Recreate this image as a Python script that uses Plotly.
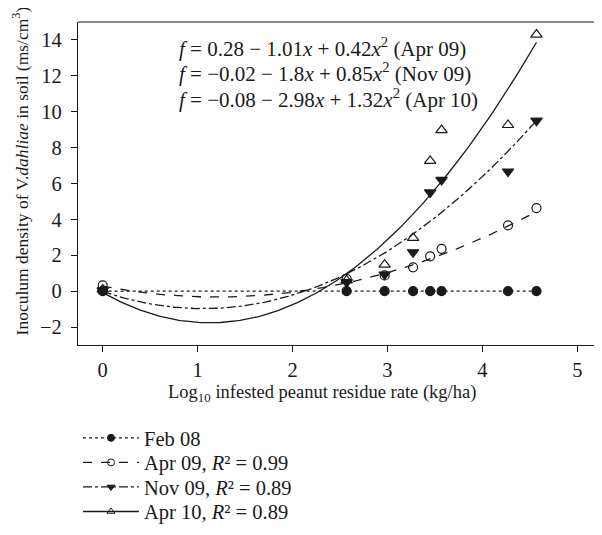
import numpy as np
import plotly.graph_objects as go

# ---- data ----
log_rate = [0.0, 2.57, 2.97, 3.27, 3.45, 3.57, 4.27, 4.57]
feb08 = [0.0, 0.0, 0.0, 0.0, 0.0, 0.0, 0.0, 0.0]
apr09 = [0.32, 0.68, 0.88, 1.33, 1.94, 2.36, 3.67, 4.63]
nov09 = [0.05, 0.5, 0.93, 2.17, 5.5, 6.2, 6.67, 9.5]
apr10 = [0.1, 0.6, 1.48, 2.97, 7.26, 8.98, 9.26, 14.3]

# fitted quadratic coefficients (c0, c1, c2) as printed on the chart
coef_apr09 = [0.28, -1.01, 0.42]
coef_nov09 = [-0.02, -1.8, 0.85]
coef_apr10 = [-0.08, -2.98, 1.32]

names = ["Feb 08",
         "Apr 09, <i>R</i>² = 0.99",
         "Nov 09, <i>R</i>² = 0.89",
         "Apr 10, <i>R</i>² = 0.89"]
equations = [
    "<i>f</i> = 0.28 − 1.01<i>x</i> + 0.42<i>x</i><sup>2</sup> (Apr 09)",
    "<i>f</i> = −0.02 − 1.8<i>x</i> + 0.85<i>x</i><sup>2</sup> (Nov 09)",
    "<i>f</i> = −0.08 − 2.98<i>x</i> + 1.32<i>x</i><sup>2</sup> (Apr 10)",
]
xticks = [0, 1, 2, 3, 4, 5]
yticks = [-2, 0, 2, 4, 6, 8, 10, 12, 14]
yticklabels = ["−2", "0", "2", "4", "6", "8", "10", "12", "14"]
xtitle = "Log<sub>10</sub> infested peanut residue rate (kg/ha)"
ytitle = "Inoculum density of V.<i>dahliae</i> in soil (ms/cm<sup>3</sup>)"

FONT = "Liberation Serif, Times New Roman, serif"
BLACK = "#1a1a1a"

xfit = np.linspace(min(log_rate), max(log_rate), 200)


def quad(c, x):
    return c[0] + c[1] * x + c[2] * x ** 2


fig = go.Figure()

series = [
    (feb08, None, "circle", "dot", 9),
    (apr09, coef_apr09, "circle-open", "dash", 9),
    (nov09, coef_nov09, "triangle-down", "dashdot", 10),
    (apr10, coef_apr10, "triangle-up-open", "solid", 10),
]
legend_ids = ["legend", "legend2", "legend3", "legend4"]
legend_y = [-0.288, -0.364, -0.440, -0.516]

for i, (yv, coef, sym, dash, ms) in enumerate(series):
    if coef is None:
        cx, cy = log_rate, yv
    else:
        cx, cy = xfit, quad(coef, xfit)
    fig.add_trace(go.Scatter(x=cx, y=cy, mode="lines",
                             line=dict(color=BLACK, width=1.3, dash=dash),
                             showlegend=False, hoverinfo="skip"))
    fig.add_trace(go.Scatter(x=log_rate, y=yv, mode="markers",
                             marker=dict(symbol=sym, size=ms, color=BLACK,
                                         line=dict(color=BLACK, width=1.2)),
                             showlegend=False))
    # legend entry (each row in its own legend box so row spacing matches)
    fig.add_trace(go.Scatter(x=[None], y=[None], mode="lines+markers", name=names[i],
                             legend=legend_ids[i],
                             marker=dict(symbol=sym, size=7, color=BLACK,
                                         line=dict(color=BLACK, width=1)),
                             line=dict(color=BLACK, width=1.3, dash=dash)))

for k, eq in enumerate(equations):
    fig.add_annotation(x=0.78, y=13.6 - 1.43 * k, xref="x", yref="y", text=eq,
                       showarrow=False, xanchor="left", yanchor="middle",
                       font=dict(family=FONT, size=21, color=BLACK))

# axis titles as annotations (placed like the reference)
fig.add_annotation(x=0.466, y=-0.149, xref="paper", yref="paper", text=xtitle,
                   showarrow=False, xanchor="center", yanchor="middle",
                   font=dict(family=FONT, size=18.5, color=BLACK))
fig.add_annotation(x=-0.111, y=0.54, xref="paper", yref="paper", text=ytitle,
                   showarrow=False, textangle=-90, xanchor="center", yanchor="middle",
                   font=dict(family=FONT, size=17.5, color=BLACK))

# top frame line
fig.add_shape(type="line", xref="paper", yref="paper", x0=0, x1=1, y0=1, y1=1,
              line=dict(color=BLACK, width=1.2))

legend_common = dict(x=0.0, xanchor="left", yanchor="middle",
                     font=dict(family=FONT, size=20.5, color=BLACK),
                     itemwidth=56, bgcolor="rgba(0,0,0,0)")

fig.update_layout(
    width=594, height=527,
    margin=dict(l=70, r=0, t=14, b=190, autoexpand=False),
    paper_bgcolor="white", plot_bgcolor="white",
    font=dict(family=FONT, size=19, color=BLACK),
    legend=dict(y=legend_y[0], **legend_common),
    legend2=dict(y=legend_y[1], **legend_common),
    legend3=dict(y=legend_y[2], **legend_common),
    legend4=dict(y=legend_y[3], **legend_common),
    xaxis=dict(range=[-0.26, 5.26], tickvals=xticks, automargin=False,
               showgrid=False, zeroline=False, showline=True, linecolor=BLACK,
               linewidth=1.2, ticks="outside", ticklen=6,
               tickcolor=BLACK, tickfont=dict(size=20.5)),
    yaxis=dict(range=[-3, 15], tickvals=yticks, ticktext=yticklabels, automargin=False,
               showgrid=False, zeroline=False, showline=True, linecolor=BLACK,
               linewidth=1.2, ticks="outside", ticklen=6, tickcolor=BLACK,
               ticklabelstandoff=5, tickfont=dict(size=20.5)),
)

fig.write_html("out.html")
